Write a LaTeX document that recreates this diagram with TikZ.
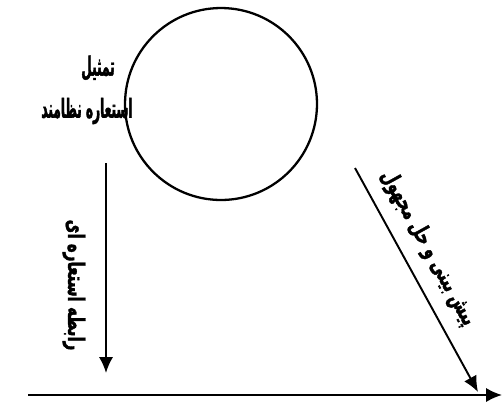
\documentclass[tikz,border=0pt]{standalone}
\usepackage{fontspec}
\newfontfamily\farsi[Script=Arabic, FakeStretch=0.66, FakeBold=1.5]{DejaVu Sans}
\newfontfamily\farsinarrow[Script=Arabic, FakeStretch=0.46, FakeBold=1.5]{DejaVu Sans}
\TeXXeTstate=1
\usetikzlibrary{arrows.meta}

\begin{document}
\begin{tikzpicture}[x=0.02cm, y=-0.02cm, >={Latex[length=9pt, width=8pt]},
    farsilabel/.style={font=\farsi\bfseries\fontsize{13}{15}\selectfont, inner sep=0pt},
    leftlabel/.style={font=\farsinarrow\bfseries\fontsize{15}{17}\selectfont, inner sep=0pt},
    arrowline/.style={->, line width=1.1pt}]
    \useasboundingbox (0,0) rectangle (502,403);

    % 1. The circle
    \node[draw, circle, line width=1.3pt, minimum size=3.84cm, inner sep=0pt] (circ) at (221,104) {};

    % 2. Labels at the left of the circle
    \node[leftlabel] (tamsil) at (98,68) {\beginR تمثیل\endR};
    \node[leftlabel] (nezam) at (87,111) {\beginR استعاره نظامند\endR};

    % 3. Vertical arrow and its label
    \coordinate (vtop) at (106,163);
    \coordinate (vbot) at (106,373);
    \draw[arrowline] (vtop) -- (vbot);
    \node[farsilabel, rotate=-90] (rabete) at (74,285) {\beginR رابطه استعاره ای\endR};

    % 4. Diagonal arrow and its label
    \coordinate (dtop) at (355,168);
    \coordinate (dbot) at (478,392);
    \draw[arrowline] (dtop) -- (dbot);
    \node[farsilabel, rotate=-61] (pish) at (428,248) {\beginR پیش بینی و حل مجهول\endR};

    % 5. Horizontal axis
    \coordinate (hleft) at (28,395);
    \coordinate (hright) at (502,395);
    \draw[arrowline] (hleft) -- (hright);
\end{tikzpicture}
\end{document}
